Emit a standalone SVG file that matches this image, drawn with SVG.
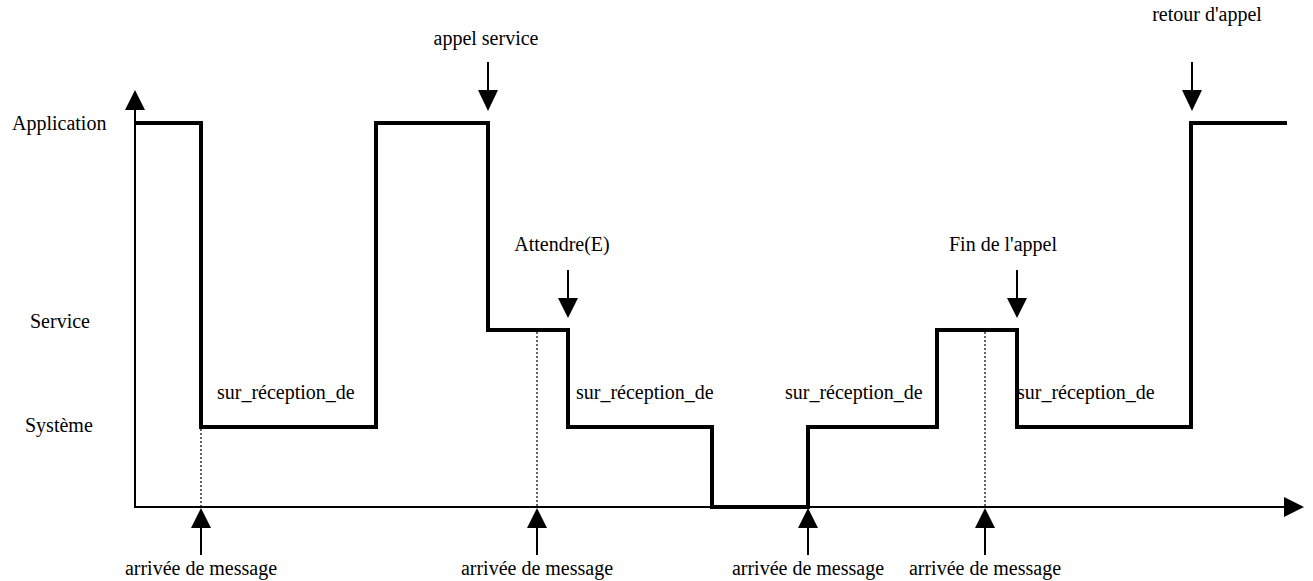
<svg xmlns="http://www.w3.org/2000/svg" width="1313" height="581" viewBox="0 0 1313 581">
<style>
text{font-family:"Liberation Serif","Times New Roman",serif;font-size:20px;fill:#000}
.c{text-anchor:middle}
.ax{stroke:#000;stroke-width:2;fill:none}
.sig{stroke:#000;stroke-width:4;fill:none;stroke-linejoin:miter}
.dot{stroke:#000;stroke-width:1.2;stroke-dasharray:2 2;fill:none}
.ar{stroke:#000;stroke-width:2;fill:none}
.hd{fill:#000}
</style>
<rect width="1313" height="581" fill="#fff"/>
<g id="axes">
<path class="ax" d="M135,110 V507 H1285"/>
<polygon class="hd" points="135,90 125,110 145,110"/>
<polygon class="hd" points="1304,507 1284,497 1284,517"/>
</g>
<g id="levels">
<text x="12" y="130">Application</text>
<text x="30" y="328">Service</text>
<text x="25" y="432">Système</text>
</g>
<g id="connectors">
<path class="sig" d="M135,123 H201 V427 H376 V123 H488 V330 H568 V427 H712 V507 H808 V427 H937 V330 H1017 V427 H1191 V123 H1287"/>
<path class="dot" d="M201,429 V507 M537,332 V507 M985,332 V507"/>
</g>
<g id="labels-state">
<text x="217" y="399">sur_réception_de</text>
<text x="576" y="399">sur_réception_de</text>
<text x="785" y="399">sur_réception_de</text>
<text x="1017" y="399">sur_réception_de</text>
</g>
<g id="top-events">
<g id="ev-appel-service"><text class="c" x="486" y="45">appel service</text><path class="ar" d="M488,62 V92"/><polygon class="hd" points="488,111 478,90 498,90"/></g>
<g id="ev-attendre"><text class="c" x="562" y="251">Attendre(E)</text><path class="ar" d="M568,270 V300"/><polygon class="hd" points="568,318 558,298 578,298"/></g>
<g id="ev-fin"><text class="c" x="1003" y="251">Fin de l'appel</text><path class="ar" d="M1017,270 V300"/><polygon class="hd" points="1017,318 1007,298 1027,298"/></g>
<g id="ev-retour"><text class="c" x="1207" y="21">retour d'appel</text><path class="ar" d="M1192,62 V92"/><polygon class="hd" points="1192,111 1182,90 1202,90"/></g>
</g>
<g id="bottom-events">
<g id="msg1"><polygon class="hd" points="201,508 191,528 211,528"/><path class="ar" d="M201,526 V555"/><text class="c" x="201" y="575">arrivée de message</text></g>
<g id="msg2"><polygon class="hd" points="537,508 527,528 547,528"/><path class="ar" d="M537,526 V555"/><text class="c" x="537" y="575">arrivée de message</text></g>
<g id="msg3"><polygon class="hd" points="808,508 798,528 818,528"/><path class="ar" d="M808,526 V555"/><text class="c" x="808" y="575">arrivée de message</text></g>
<g id="msg4"><polygon class="hd" points="985,508 975,528 995,528"/><path class="ar" d="M985,526 V555"/><text class="c" x="985" y="575">arrivée de message</text></g>
</g>
</svg>
